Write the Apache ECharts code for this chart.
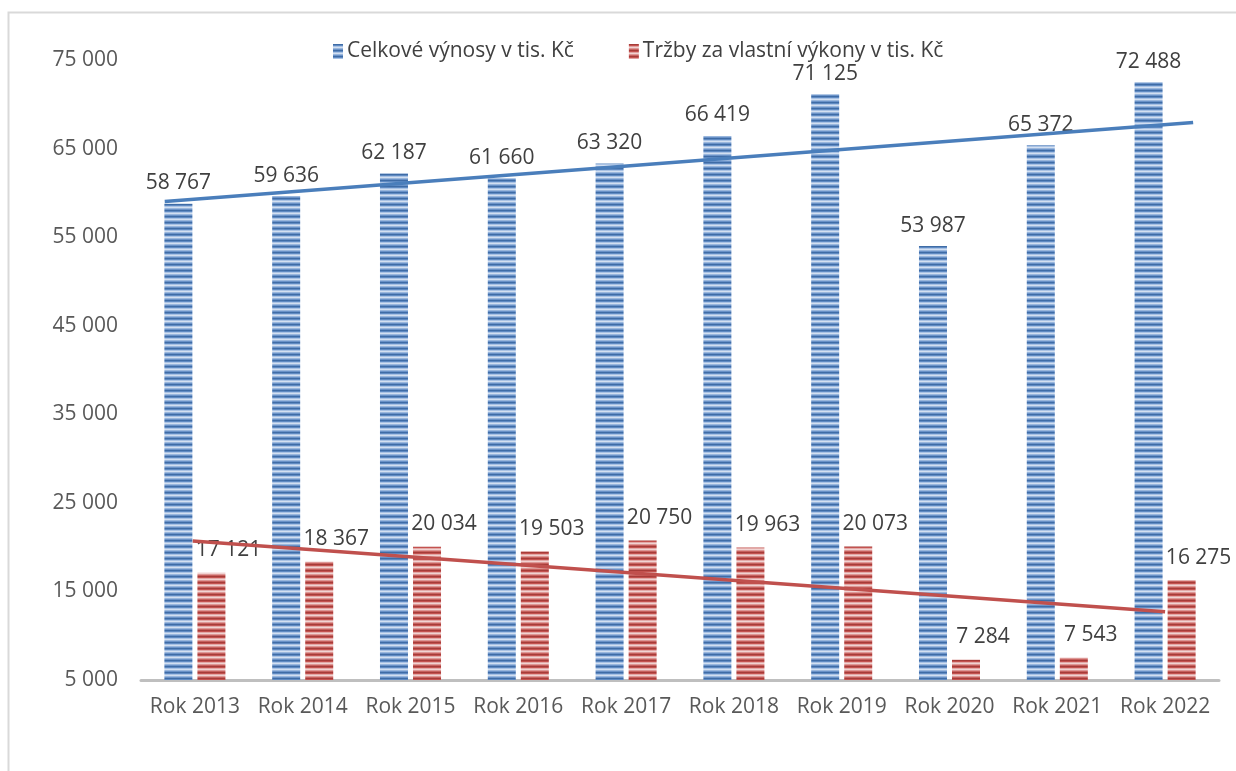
<!DOCTYPE html>
<html>
<head>
<meta charset="utf-8">
<script src="https://cdn.jsdelivr.net/npm/echarts@6/dist/echarts.min.js"></script>
<style>
  html, body { margin: 0; padding: 0; background: #fff; }
  #chart { width: 1236px; height: 771px; }
</style>
</head>
<body>
<div id="chart"></div>
<script>
const categories = ['Rok 2013', 'Rok 2014', 'Rok 2015', 'Rok 2016', 'Rok 2017',
  'Rok 2018', 'Rok 2019', 'Rok 2020', 'Rok 2021', 'Rok 2022']
const vynosy = [58767, 59636, 62187, 61660, 63320, 66419, 71125, 53987, 65372, 72488]
const trzby = [17121, 18367, 20034, 19503, 20750, 19963, 20073, 7284, 7543, 16275]
const seriesNames = ['Celkové výnosy v tis. Kč', 'Tržby za vlastní výkony v tis. Kč']

const FONT = '"Open Sans", sans-serif'

// striped fill like the excel texture
function stripes(colors) {
  const c = document.createElement('canvas')
  c.width = 4
  c.height = colors.length
  const ctx = c.getContext('2d')
  colors.forEach((col, i) => {
    ctx.fillStyle = col
    ctx.fillRect(0, i, 4, 1)
  })
  return { image: c, repeat: 'repeat' }
}
const bluePattern = stripes(['#3f6ca6', '#5f8ac2', '#a9c2e4', '#d2dff1', '#9ab7dd', '#6a92c8'])
const redPattern = stripes(['#a63c39', '#c4524f', '#e2a9a7', '#f1d2d1', '#dd9896', '#c7615e'])

// linear trend (least squares) over category index
function trend(values) {
  const n = values.length
  const mx = (n - 1) / 2
  const my = values.reduce((a, b) => a + b, 0) / n
  let sxy = 0, sxx = 0
  values.forEach((v, i) => { sxy += (i - mx) * (v - my); sxx += (i - mx) * (i - mx) })
  const k = sxy / sxx
  return x => my + k * (x - mx)
}
const tv = trend(vynosy)
const tt = trend(trzby)

const fmt = v => String(Math.round(v)).replace(/\B(?=(\d{3})+(?!\d))/g, ' ')

const chart = echarts.init(document.getElementById('chart'))
chart.setOption({
  animation: false,
  textStyle: { fontFamily: FONT },
  graphic: [{
    type: 'rect',
    shape: { x: 8.5, y: 12.5, width: 1260, height: 800 },
    style: { fill: 'none', stroke: '#d9d9d9', lineWidth: 2 },
    z: -1
  }],
  legend: {
    top: 36,
    left: 328,
    itemGap: 55,
    itemWidth: 10,
    itemHeight: 15,
    icon: 'rect',
    data: seriesNames,
    textStyle: { fontSize: 21, color: '#404040', fontFamily: FONT, padding: [0, 0, 0, -1] }
  },
  grid: { left: 141, right: 17, top: 60, bottom: 91 },
  xAxis: [{
    type: 'category',
    data: categories,
    axisLine: { lineStyle: { color: '#bfbfbf', width: 3 } },
    axisTick: { show: false },
    axisLabel: { interval: 0, fontSize: 21, color: '#595959', margin: 17, fontFamily: FONT }
  }, {
    type: 'value',
    min: -0.5,
    max: 9.5,
    show: false
  }],
  yAxis: {
    type: 'value',
    min: 5000,
    max: 75000,
    interval: 10000,
    axisLine: { show: false },
    axisTick: { show: false },
    splitLine: { show: false },
    axisLabel: { fontSize: 21, color: '#595959', margin: 23, fontFamily: FONT, formatter: fmt }
  },
  series: [{
    name: seriesNames[0],
    type: 'bar',
    data: vynosy,
    barWidth: 28,
    barGap: '18%',
    itemStyle: { color: bluePattern },
    label: {
      show: true, position: 'top', distance: 10,
      fontSize: 21, color: '#404040', fontFamily: FONT, formatter: p => fmt(p.value)
    }
  }, {
    name: seriesNames[1],
    type: 'bar',
    data: trzby,
    barWidth: 28,
    itemStyle: { color: redPattern },
    label: {
      show: true, position: 'top', distance: 12, offset: [17, 0],
      fontSize: 21, color: '#404040', fontFamily: FONT, formatter: p => fmt(p.value)
    }
  }, {
    type: 'line',
    xAxisIndex: 1,
    data: [[-0.28, tv(-0.28)], [9.26, tv(9.26)]],
    symbol: 'none',
    lineStyle: { color: '#4a7ebb', width: 3.5 },
    z: 5,
    silent: true
  }, {
    type: 'line',
    xAxisIndex: 1,
    data: [[-0.02, tt(-0.02)], [9, tt(9)]],
    symbol: 'none',
    lineStyle: { color: '#c0504d', width: 3.5 },
    z: 5,
    silent: true
  }]
})
</script>
</body>
</html>
